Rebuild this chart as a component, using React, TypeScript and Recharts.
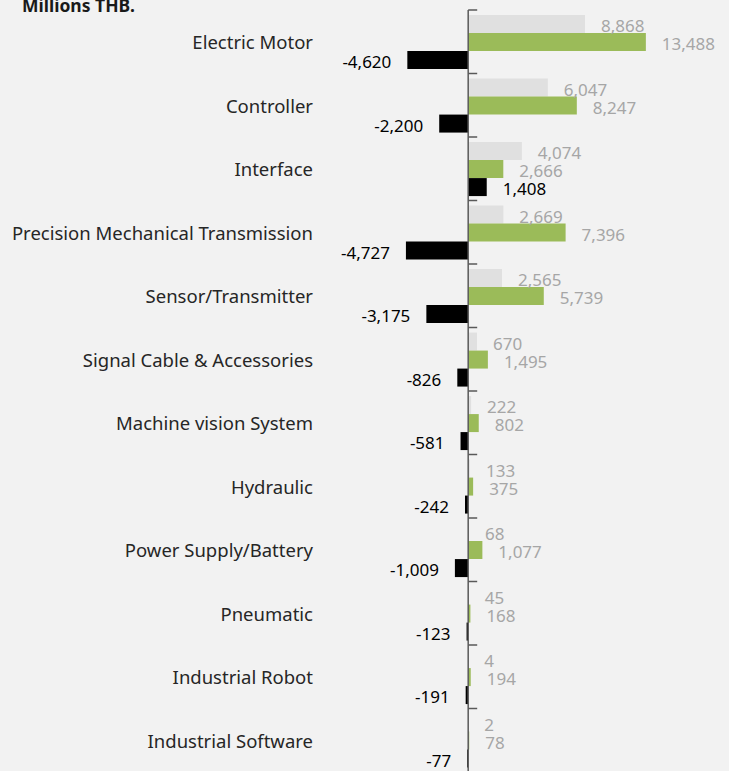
import { BarChart, Bar, XAxis, YAxis, ReferenceLine, LabelList } from 'recharts';

const categories = [
  'Electric Motor',
  'Controller',
  'Interface',
  'Precision Mechanical Transmission',
  'Sensor/Transmitter',
  'Signal Cable & Accessories',
  'Machine vision System',
  'Hydraulic',
  'Power Supply/Battery',
  'Pneumatic',
  'Industrial Robot',
  'Industrial Software',
];

// light gray bars
const exportValues = [8868, 6047, 4074, 2669, 2565, 670, 222, 133, 68, 45, 4, 2];
// green bars
const importValues = [13488, 8247, 2666, 7396, 5739, 1495, 802, 375, 1077, 168, 194, 78];
// black bars
const balanceValues = [-4620, -2200, 1408, -4727, -3175, -826, -581, -242, -1009, -123, -191, -77];

const data = categories.map((name, i) => ({
  name,
  exports: exportValues[i],
  imports: importValues[i],
  balance: balanceValues[i],
}));

const fmt = (v: unknown) => Number(v).toLocaleString('en-US');

// zero line with small stubs at each category boundary
function ZeroAxis(props: any) {
  const { x1, y1, y2 } = props;
  const top = Math.min(y1, y2);
  const bottom = Math.max(y1, y2);
  const step = (bottom - top) / categories.length;
  return (
    <g>
      <line x1={x1} x2={x1} y1={top} y2={bottom} stroke="#595959" strokeWidth={1.5} />
      {Array.from({ length: categories.length + 1 }, (_, i) => (
        <line
          key={i}
          x1={x1}
          x2={x1 + 9}
          y1={top + i * step}
          y2={top + i * step}
          stroke="#595959"
          strokeWidth={1.5}
        />
      ))}
    </g>
  );
}

export default function App() {
  return (
    <div
      style={{
        position: 'fixed',
        top: 0,
        left: 0,
        width: 729,
        height: 771,
        overflow: 'hidden',
        background: '#F2F2F2',
        fontFamily: '"Noto Sans", sans-serif',
      }}
    >
      <div
        style={{
          position: 'absolute',
          left: 22,
          top: -5,
          fontSize: 17.5,
          lineHeight: '20px',
          fontWeight: 700,
          color: '#1a1a1a',
        }}
      >
        Millions THB.
      </div>
      <BarChart
        width={729}
        height={780}
        data={data}
        layout="vertical"
        margin={{ top: 10, right: 0, bottom: 8, left: 0 }}
        barCategoryGap="8%"
        barGap={0}
      >
        <XAxis type="number" hide domain={[-11250, 19800]} />
        <YAxis
          type="category"
          dataKey="name"
          width={320}
          axisLine={false}
          tickLine={false}
          tickSize={0}
          tickMargin={7}
          interval={0}
          tick={{ fontSize: 18.5, fill: '#262626', dy: 1 }}
        />
        <Bar dataKey="exports" fill="#E0E0E0" isAnimationActive={false}>
          <LabelList dataKey="exports" position="right" offset={16} formatter={fmt} fill="#A6A6A6" fontSize={17} dy={2} />
        </Bar>
        <Bar dataKey="imports" fill="#9BBB59" isAnimationActive={false}>
          <LabelList dataKey="imports" position="right" offset={16} formatter={fmt} fill="#A6A6A6" fontSize={17} dy={2} />
        </Bar>
        <Bar dataKey="balance" fill="#000000" isAnimationActive={false}>
          <LabelList dataKey="balance" position="right" offset={16} formatter={fmt} fill="#000000" fontSize={17} dy={2} />
        </Bar>
        <ReferenceLine x={0} shape={ZeroAxis} />
      </BarChart>
    </div>
  );
}
